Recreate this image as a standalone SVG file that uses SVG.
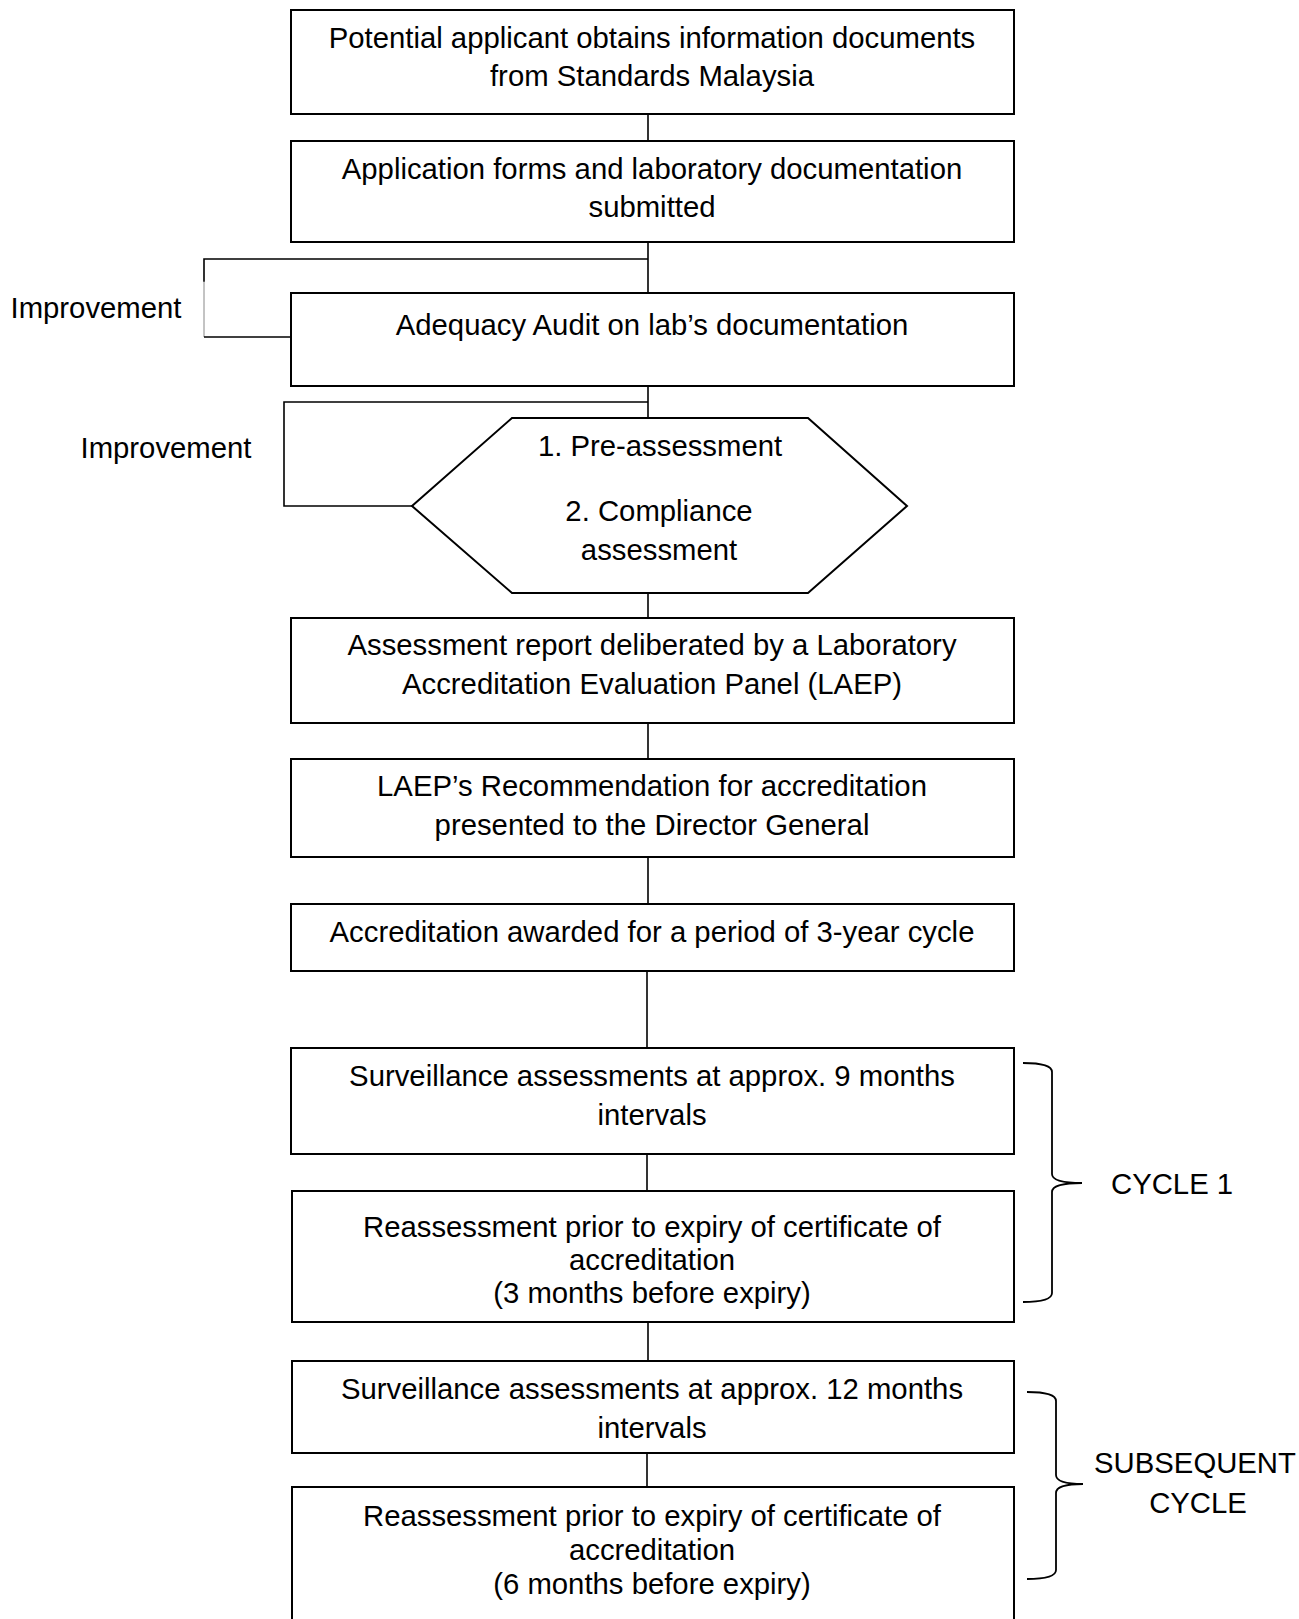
<svg xmlns="http://www.w3.org/2000/svg" width="1299" height="1619" viewBox="0 0 1299 1619">
<style>
text{font-family:"Liberation Sans",Arial,sans-serif;font-size:29.3px;fill:#000}
.c{text-anchor:middle}
.box{fill:#fff;stroke:#000;stroke-width:2}
.ln{fill:none;stroke:#000;stroke-width:1.6}
.br{fill:none;stroke:#000;stroke-width:1.8}
</style>
<rect width="1299" height="1619" fill="#fff"/>
<g id="connectors">
<line class="ln" x1="648" y1="114" x2="648" y2="141"/>
<line class="ln" x1="648" y1="242" x2="648" y2="293"/>
<path class="ln" d="M648 259 H204 V282"/>
<line x1="204" y1="281" x2="204" y2="337" stroke="#888" stroke-width="1"/>
<line class="ln" x1="204" y1="337" x2="291" y2="337"/>
<line class="ln" x1="648" y1="386" x2="648" y2="418"/>
<path class="ln" d="M648 402 H284 V506 H412"/>
<line class="ln" x1="648" y1="593" x2="648" y2="618"/>
<line class="ln" x1="648" y1="723" x2="648" y2="759"/>
<line class="ln" x1="648" y1="857" x2="648" y2="904"/>
<line class="ln" x1="647" y1="971" x2="647" y2="1048"/>
<line class="ln" x1="647" y1="1154" x2="647" y2="1191"/>
<line class="ln" x1="648" y1="1322" x2="648" y2="1361"/>
<line class="ln" x1="647" y1="1453" x2="647" y2="1487"/>
</g>
<g id="n1"><rect class="box" x="291" y="10" width="723" height="104"/>
<text class="c" x="652" y="48">Potential applicant obtains information documents</text>
<text class="c" x="652" y="86">from Standards Malaysia</text></g>
<g id="n2"><rect class="box" x="291" y="141" width="723" height="101"/>
<text class="c" x="652" y="179">Application forms and laboratory documentation</text>
<text class="c" x="652" y="217">submitted</text></g>
<g id="n3"><rect class="box" x="291" y="293" width="723" height="93"/>
<text class="c" x="652" y="335">Adequacy Audit on lab’s documentation</text></g>
<g id="n4"><polygon class="box" points="512,418 808,418 907,506 808,593 512,593 412,506"/>
<text class="c" x="660" y="456">1. Pre-assessment</text>
<text class="c" x="659" y="521">2. Compliance</text>
<text class="c" x="659" y="560">assessment</text></g>
<g id="n5"><rect class="box" x="291" y="618" width="723" height="105"/>
<text class="c" x="652" y="655">Assessment report deliberated by a Laboratory</text>
<text class="c" x="652" y="694">Accreditation Evaluation Panel (LAEP)</text></g>
<g id="n6"><rect class="box" x="291" y="759" width="723" height="98"/>
<text class="c" x="652" y="796">LAEP’s Recommendation for accreditation</text>
<text class="c" x="652" y="835">presented to the Director General</text></g>
<g id="n7"><rect class="box" x="291" y="904" width="723" height="67"/>
<text class="c" x="652" y="942">Accreditation awarded for a period of 3-year cycle</text></g>
<g id="n8"><rect class="box" x="291" y="1048" width="723" height="106"/>
<text class="c" x="652" y="1086">Surveillance assessments at approx. 9 months</text>
<text class="c" x="652" y="1125">intervals</text></g>
<g id="n9"><rect class="box" x="292" y="1191" width="722" height="131"/>
<text class="c" x="652" y="1237">Reassessment prior to expiry of certificate of</text>
<text class="c" x="652" y="1270">accreditation</text>
<text class="c" x="652" y="1303">(3 months before expiry)</text></g>
<g id="n10"><rect class="box" x="292" y="1361" width="722" height="92"/>
<text class="c" x="652" y="1399">Surveillance assessments at approx. 12 months</text>
<text class="c" x="652" y="1438">intervals</text></g>
<g id="n11"><rect class="box" x="292" y="1487" width="722" height="160"/>
<text class="c" x="652" y="1526">Reassessment prior to expiry of certificate of</text>
<text class="c" x="652" y="1560">accreditation</text>
<text class="c" x="652" y="1594">(6 months before expiry)</text></g>
<g id="improve1"><text x="10.5" y="318">Improvement</text></g>
<g id="improve2"><text x="80.5" y="458">Improvement</text></g>
<g id="cycle1">
<path class="br" d="M1023 1063 Q1052 1063 1052 1072 V1174 Q1052 1183 1082 1183 Q1052 1183 1052 1192 V1293 Q1052 1302 1023 1302"/>
<text x="1111" y="1194">CYCLE 1</text></g>
<g id="cycle2">
<path class="br" d="M1027 1392 Q1056 1392 1056 1401 V1475 Q1056 1484 1083 1484 Q1056 1484 1056 1493 V1570 Q1056 1579 1027 1579"/>
<text class="c" x="1195" y="1473">SUBSEQUENT</text>
<text class="c" x="1198" y="1513">CYCLE</text></g>
</svg>
